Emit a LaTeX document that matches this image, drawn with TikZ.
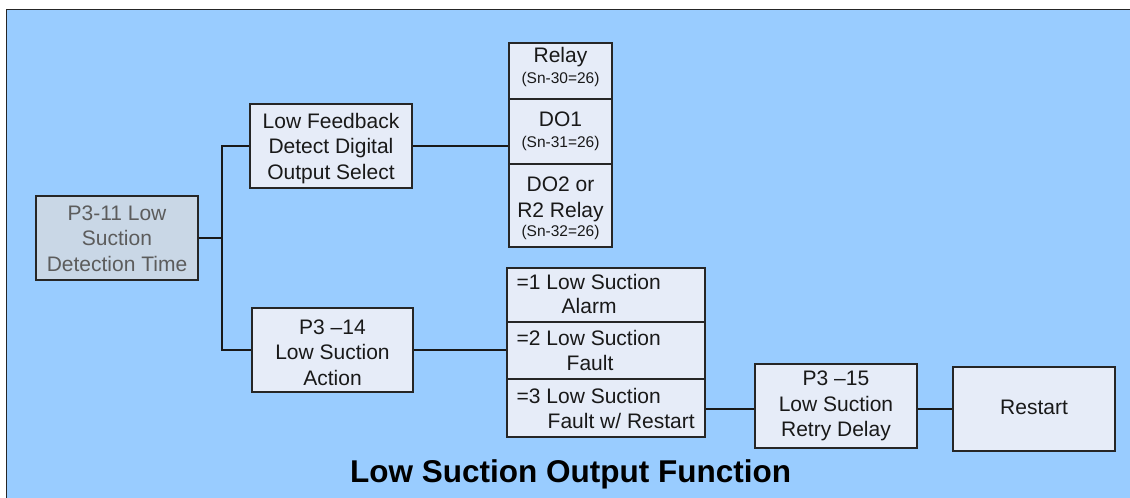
\documentclass[tikz,border=0pt]{standalone}
\usepackage{fontspec}
\setmainfont{Liberation Sans}
\definecolor{bgblue}{HTML}{99CCFF}
\definecolor{boxfill}{HTML}{E6ECF8}
\definecolor{greyfill}{HTML}{C9D7E6}
\definecolor{greytext}{HTML}{5C5C5C}
\definecolor{edge}{HTML}{262626}
\begin{document}
\begin{tikzpicture}[x=1pt,y=-1pt,
  box/.style={draw=edge,line width=1.2pt,fill=boxfill,rectangle,inner sep=0pt},
  boxtext/.style={inner sep=0pt,align=center,font=\fontsize{21}{25.5}\selectfont,text=black!90},
  cell/.style={draw=edge,line width=1.2pt,fill=boxfill,rectangle,inner sep=0pt},
  big/.style={font=\fontsize{21}{25.5}\selectfont,text=black!90,inner sep=0pt},
  small/.style={font=\fontsize{15.5}{18}\selectfont,text=black!90,inner sep=0pt},
  conn/.style={line width=1.6pt,draw=black!90}]
\useasboundingbox (0,0) rectangle (1130,498);
\fill[bgblue] (6.5,9.5) rectangle (1140,505);
\draw[edge,line width=1.5pt] (1140,9.5) -- (6.5,9.5) -- (6.5,505);

% main boxes
\node[box,fill=greyfill,minimum width=162pt,minimum height=84pt] (p311) at (117,238) {};
\node[boxtext,text=greytext] (p311t) at ([yshift=-0.5pt]p311.center) {P3-11 Low\\Suction\\Detection Time};
\node[box,minimum width=162pt,minimum height=84pt] (lowfb) at (331,146) {};
\node[boxtext] (lowfbt) at ([yshift=-2.5pt]lowfb.center) {Low Feedback\\Detect Digital\\Output Select};
\node[box,minimum width=161pt,minimum height=84pt] (p314) at (332.5,350) {};
\node[boxtext] (p314t) at ([yshift=-2.5pt]p314.center) {P3 –14\\Low Suction\\Action};
\node[box,minimum width=162pt,minimum height=84pt] (p315) at (836,406) {};
\node[boxtext] (p315t) at ([yshift=0pt]p315.center) {P3 –15\\Low Suction\\Retry Delay};
\node[box,minimum width=162pt,minimum height=84pt] (restart) at (1034,409) {};
\node[boxtext] (restartt) at ([yshift=2pt]restart.center) {Restart};

% relay stack
\node[cell,minimum width=103pt,minimum height=56pt] (r1) at (560.5,71) {};
\node[cell,minimum width=103pt,minimum height=65pt] (r2) at (560.5,131.5) {};
\node[cell,minimum width=103pt,minimum height=83pt] (r3) at (560.5,205.5) {};
\node[big,anchor=base] (r1a) at (560.5,62.5) {Relay};
\node[small,anchor=base] (r1b) at (560.5,83.5) {(Sn-30=26)};
\node[big,anchor=base] (r2a) at (560.5,126.5) {DO1};
\node[small,anchor=base] (r2b) at (560.5,147.5) {(Sn-31=26)};
\node[big,anchor=base] (r3a) at (560.5,191) {DO2 or};
\node[big,anchor=base] (r3b) at (560.5,217.5) {R2 Relay};
\node[small,anchor=base] (r3c) at (560.5,236.5) {(Sn-32=26)};

% low suction stack
\node[cell,minimum width=198pt,minimum height=54pt] (l1) at (606,295) {};
\node[cell,minimum width=198pt,minimum height=57pt] (l2) at (606,350.5) {};
\node[cell,minimum width=198pt,minimum height=58pt] (l3) at (606,408) {};
\node[big,anchor=base west] (l1a) at (516.5,289.5) {=1 Low Suction};
\node[big,anchor=base west] (l1b) at (561.5,313.5) {Alarm};
\node[big,anchor=base west] (l2a) at (516.5,345) {=2 Low Suction};
\node[big,anchor=base west] (l2b) at (566.5,370) {Fault};
\node[big,anchor=base west] (l3a) at (516.5,403.5) {=3 Low Suction};
\node[big,anchor=base west] (l3b) at (547.5,428.5) {Fault w/ Restart};

% title
\node[anchor=base,inner sep=0pt,font=\fontsize{31.5}{36}\selectfont\bfseries] (title) at (570.5,482) {Low Suction Output Function};

% connectors
\coordinate (j) at (222,238);
\draw[conn] (p311.east) -- (j);
\draw[conn] (lowfb.west) -| (j) |- (p314.west);
\draw[conn] (lowfb.east) -- (lowfb.east -| r2.west);
\draw[conn] (p314.east) -- (p314.east -| l2.west);
\draw[conn] (l3.east) ++(0,1) coordinate (l3e) -- (l3e -| p315.west);
\draw[conn] (restart.west -| p315.east) -- (restart.west);
\end{tikzpicture}
\end{document}
